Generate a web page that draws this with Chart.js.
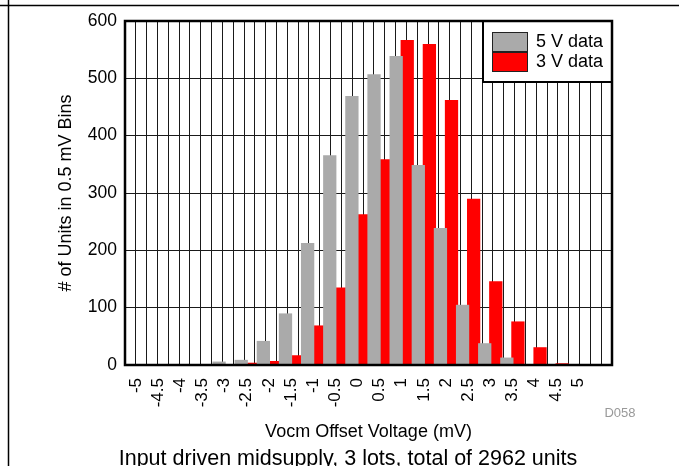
<!DOCTYPE html>
<html>
<head>
    <title>Vocm Offset Voltage</title>
    <meta charset="UTF-8">
    <script src="https://cdn.jsdelivr.net/npm/chart.js@4.4.1/dist/chart.umd.min.js"></script>
    <style>
        html, body { margin: 0; padding: 0; background: #fff; }
    </style>
</head>
<body>
    <canvas id="myChart" width="679" height="466"></canvas>

    <script>
        // 0.5 mV bins, last slot has no label
        var labels = ['-5', '-4.5', '-4', '-3.5', '-3', '-2.5', '-2', '-1.5', '-1', '-0.5', '0',
                      '0.5', '1', '1.5', '2', '2.5', '3', '3.5', '4', '4.5', '5', ''];
        var data5V = [0, 0, 0, 0, 6, 9, 42, 90, 213, 366, 469, 507, 539, 349, 239, 105, 38, 13, 0, 0, 0, 0];
        var data3V = [0, 0, 0, 0, 0, 4, 7, 17, 69, 135, 263, 359, 567, 560, 462, 290, 146, 76, 31, 3, 0, 0];
        var yTicks = [0, 100, 200, 300, 400, 500, 600];
        var seriesNames = ['5 V data', '3 V data'];

        var xTitle = 'Vocm Offset Voltage (mV)';
        var yTitle = '# of Units in 0.5 mV Bins';
        var caption = 'Input driven midsupply, 3 lots, total of 2962 units';
        var figId = 'D058';

        Chart.defaults.font.family = '"Liberation Sans", Arial, sans-serif';
        Chart.defaults.color = '#000';

        // page frame, plot box, legend and the captions
        var decor = {
            id: 'decor',
            afterDatasetsDraw: function (chart) {
                var ctx = chart.ctx, a = chart.chartArea;
                ctx.save();

                // legend box in the top right corner
                var bw = 129, bh = 61;
                var bx = a.right - bw, by = a.top;
                ctx.fillStyle = '#fff';
                ctx.fillRect(bx, by, bw, bh);
                ctx.strokeStyle = '#000';
                ctx.lineWidth = 2;
                ctx.strokeRect(bx, by, bw, bh);
                ctx.font = '18px "Liberation Sans", Arial, sans-serif';
                ctx.textBaseline = 'middle';
                ctx.textAlign = 'left';
                chart.data.datasets.forEach(function (ds, i) {
                    var sy = by + 11 + i * 20;
                    ctx.fillStyle = ds.backgroundColor;
                    ctx.fillRect(bx + 9, sy, 36, 20);
                    ctx.lineWidth = 1;
                    ctx.strokeStyle = '#222';
                    ctx.strokeRect(bx + 9.5, sy + 0.5, 35, 19);
                    ctx.fillStyle = '#000';
                    ctx.fillText(ds.label, bx + 53, sy + 10);
                });

                // plot border
                ctx.lineWidth = 2.5;
                ctx.strokeStyle = '#000';
                ctx.strokeRect(a.left, a.top, a.right - a.left, a.bottom - a.top);

                // page frame lines
                ctx.lineWidth = 1.5;
                ctx.beginPath();
                ctx.moveTo(0, 5.5);
                ctx.lineTo(chart.width, 5.5);
                ctx.moveTo(8.5, 0);
                ctx.lineTo(8.5, chart.height);
                ctx.stroke();

                ctx.textAlign = 'center';
                ctx.fillStyle = '#999';
                ctx.font = '13px "Liberation Sans", Arial, sans-serif';
                ctx.fillText(figId, 620, 413);

                ctx.fillStyle = '#000';
                ctx.font = '21.5px "Liberation Sans", Arial, sans-serif';
                ctx.fillText(caption, 348, 459);
                ctx.restore();
            }
        };

        var ctx = document.getElementById('myChart');
        var myChart = new Chart(ctx, {
            type: 'bar',
            data: {
                labels: labels,
                datasets: [{
                    label: seriesNames[0],
                    data: data5V,
                    xAxisID: 'x',
                    backgroundColor: '#aaaaaa',
                    borderWidth: 0
                }, {
                    label: seriesNames[1],
                    data: data3V,
                    xAxisID: 'x',
                    backgroundColor: '#ff0000',
                    borderWidth: 0
                }]
            },
            options: {
                responsive: false,
                animation: false,
                devicePixelRatio: 1,
                categoryPercentage: 1.0,
                barPercentage: 1.2,
                layout: { padding: { left: 51, right: 67, top: 21, bottom: 0 } },
                plugins: {
                    legend: { display: false },
                    tooltip: { enabled: false }
                },
                scales: {
                    x: {
                        type: 'category',
                        offset: true,
                        grid: { display: false },
                        border: { display: false },
                        ticks: { autoSkip: false, minRotation: 90, maxRotation: 90, padding: 5, font: { size: 17 } },
                        title: { display: true, text: xTitle, font: { size: 18 }, padding: { top: 0, bottom: 23 } },
                        afterFit: function (s) { s.height = 101; }
                    },
                    // half-bin grid lines
                    xGrid: {
                        type: 'linear',
                        position: 'bottom',
                        min: -5.25,
                        max: 5.75,
                        ticks: { display: false, stepSize: 0.25, maxTicksLimit: 100 },
                        grid: { color: '#1a1a1a', lineWidth: 1, drawTicks: false },
                        border: { display: false },
                        afterFit: function (s) { s.height = 0; }
                    },
                    y: {
                        min: yTicks[0],
                        max: yTicks[yTicks.length - 1],
                        afterBuildTicks: function (s) {
                            s.ticks = yTicks.map(function (v) { return { value: v }; });
                        },
                        ticks: { padding: 8, font: { size: 17.5 } },
                        grid: { color: '#1a1a1a', lineWidth: 1, drawTicks: false },
                        border: { display: false },
                        title: { display: true, text: yTitle, font: { size: 18 }, padding: { top: 4, bottom: 0 } },
                        afterFit: function (s) { s.width = 74; }
                    }
                }
            },
            plugins: [decor]
        });
    </script>
</body>
</html>
